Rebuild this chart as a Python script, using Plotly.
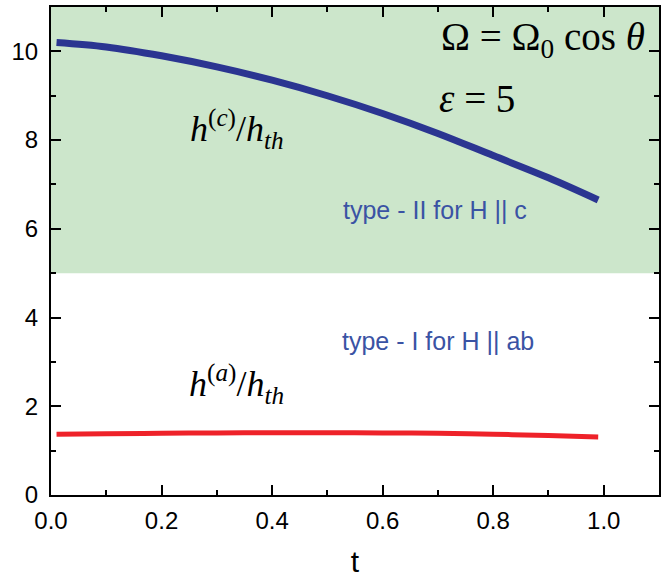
import plotly.graph_objects as go

t_c = [0.01, 0.1, 0.2, 0.3, 0.4, 0.5, 0.6, 0.7, 0.8, 0.9, 0.99]
h_c = [10.2, 10.1, 9.9, 9.65, 9.35, 9.0, 8.6, 8.15, 7.65, 7.15, 6.65]
t_a = [0.01, 0.1, 0.2, 0.3, 0.4, 0.5, 0.6, 0.7, 0.8, 0.9, 0.99]
h_a = [1.37, 1.38, 1.39, 1.4, 1.405, 1.405, 1.4, 1.39, 1.37, 1.34, 1.31]
shade_y = [5, 11]

fig = go.Figure()
fig.add_shape(type="rect", xref="x", yref="y", x0=0, x1=1.1, y0=shade_y[0], y1=shade_y[1],
              fillcolor="#cce6cb", line_width=0, layer="below")
fig.add_trace(go.Scatter(x=t_c, y=h_c, mode="lines", line=dict(color="#2b3591", width=7, shape="spline"),
                         showlegend=False))
fig.add_trace(go.Scatter(x=t_a, y=h_a, mode="lines", line=dict(color="#ee2229", width=5, shape="spline"),
                         showlegend=False))

serif = "Liberation Serif"
ann = [
    dict(x=0.89, y=10.27, text="Ω = Ω<sub>0</sub> cos <i>θ</i>", size=39, font=serif, color="black"),
    dict(x=0.77, y=8.93, text="<i>ε</i> = 5", size=39, font=serif, color="black"),
    dict(x=0.336, y=8.25, text="<i>h</i><sup>(<i>c</i>)</sup>/<i>h</i><sub><i>th</i></sub>", size=36, font=serif, color="black"),
    dict(x=0.336, y=2.5, text="<i>h</i><sup>(<i>a</i>)</sup>/<i>h</i><sub><i>th</i></sub>", size=36, font=serif, color="black"),
    dict(x=0.694, y=6.42, text="type - II for H || c", size=25, font="Liberation Sans", color="#3a53a4"),
    dict(x=0.70, y=3.48, text="type - I for H || ab", size=25, font="Liberation Sans", color="#3a53a4"),
]
for a in ann:
    fig.add_annotation(x=a["x"], y=a["y"], xref="x", yref="y", text=a["text"], showarrow=False,
                       font=dict(family=a["font"], size=a["size"], color=a["color"]),
                       xanchor="center", yanchor="middle")

axis_common = dict(showline=True, linecolor="black", linewidth=2, mirror="allticks", ticks="inside",
                   ticklen=10, tickwidth=1.5, tickcolor="black", showgrid=False, zeroline=False,
                   tickfont=dict(family="Liberation Sans", size=24, color="black"))
fig.update_xaxes(range=[0, 1.1], dtick=0.2, tickformat=".1f", ticklabelstandoff=3,
                 minor=dict(dtick=0.1, ticks="inside", ticklen=5, tickwidth=1.5, tickcolor="black"),
                 title=dict(text="t", font=dict(family="Liberation Sans", size=30, color="black"), standoff=18),
                 **axis_common)
fig.update_yaxes(range=[0, 11], dtick=2, ticklabelstandoff=6,
                 minor=dict(dtick=1, ticks="inside", ticklen=5, tickwidth=1.5, tickcolor="black"),
                 **axis_common)
fig.update_layout(width=669, height=578, margin=dict(l=51, r=10, t=5, b=83),
                  plot_bgcolor="white", paper_bgcolor="white")
fig.write_html("out.html")
